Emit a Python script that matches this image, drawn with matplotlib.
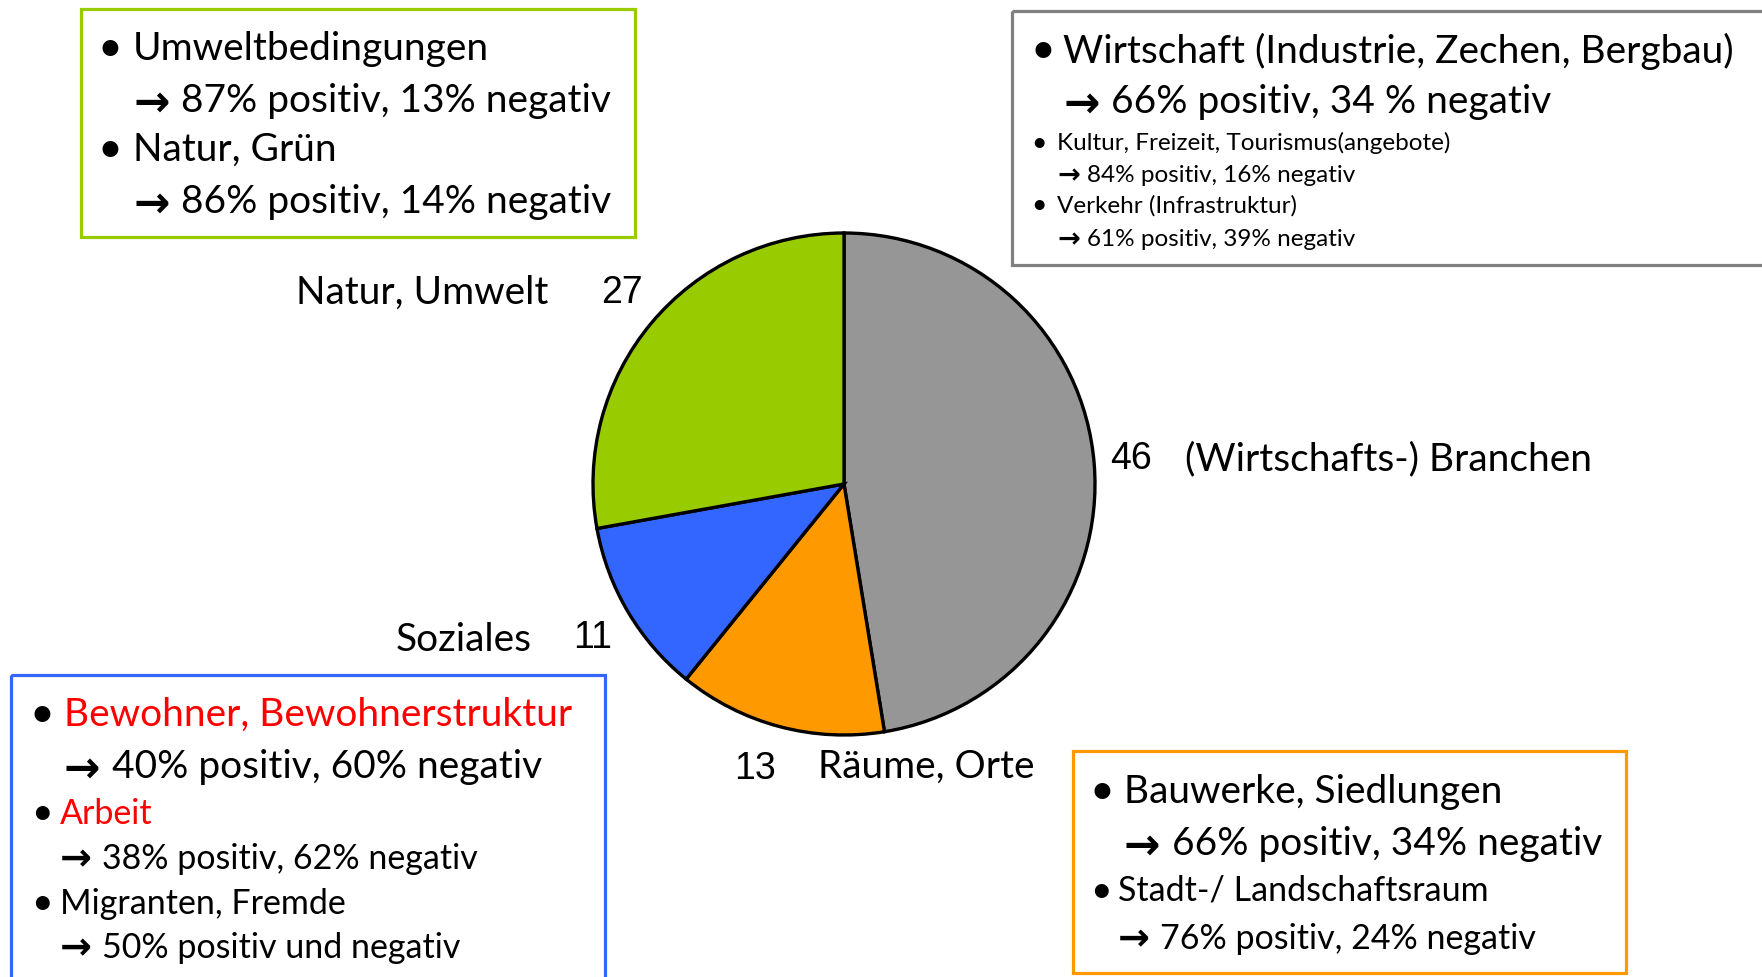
import matplotlib
matplotlib.use("Agg")
import matplotlib.pyplot as plt
from matplotlib.patches import Rectangle

# pie data
pie_labels = ["(Wirtschafts-) Branchen", "Räume, Orte", "Soziales", "Natur, Umwelt"]
pie_values = [46, 13, 11, 27]
pie_colors = ["#969696", "#FF9900", "#3366FF", "#99CC00"]

# box contents: (bullet?, text, colour, size class)
green_lines = [(True, "Umweltbedingungen", "black", "big"),
               (False, "→ 87% positiv, 13% negativ", "black", "big"),
               (True, "Natur, Grün", "black", "big"),
               (False, "→ 86% positiv, 14% negativ", "black", "big")]
grey_lines = [(True, "Wirtschaft (Industrie, Zechen, Bergbau)", "black", "big"),
              (False, "→ 66% positiv, 34 % negativ", "black", "big"),
              (True, "Kultur, Freizeit, Tourismus(angebote)", "black", "small"),
              (False, "→ 84% positiv, 16% negativ", "black", "small"),
              (True, "Verkehr (Infrastruktur)", "black", "small"),
              (False, "→ 61% positiv, 39% negativ", "black", "small")]
blue_lines = [(True, "Bewohner, Bewohnerstruktur", "#FF0000", "big"),
              (False, "→ 40% positiv, 60% negativ", "black", "big"),
              (True, "Arbeit", "#FF0000", "mid"),
              (False, "→ 38% positiv, 62% negativ", "black", "mid"),
              (True, "Migranten, Fremde", "black", "mid"),
              (False, "→ 50% positiv und negativ", "black", "mid")]
orange_lines = [(True, "Bauwerke, Siedlungen", "black", "big"),
                (False, "→ 66% positiv, 34% negativ", "black", "big"),
                (True, "Stadt-/ Landschaftsraum", "black", "mid"),
                (False, "→ 76% positiv, 24% negativ", "black", "mid")]

W, H = 1762, 977
FONT = ["Lato", "DejaVu Sans"]
sizes = {"big": 28, "mid": 24.5, "small": 17.5}
DY = 3

fig = plt.figure(figsize=(W / 100, H / 100), dpi=100)
ax = fig.add_axes((0, 0, 1, 1))

# pie (y axis is inverted, so counterclock in data = clockwise on screen)
ax.pie(pie_values, colors=pie_colors, startangle=-90, counterclock=True,
       center=(844, 484), radius=251,
       wedgeprops=dict(edgecolor="black", linewidth=2.4))
ax.set_xlim(0, W)
ax.set_ylim(H, 0)
ax.set_aspect("auto")
ax.axis("off")

# labels round the pie
label_pos = [(1185, 456, "left"), (818, 764, "left"), (532, 637, "right"), (548, 290, "right")]
num_pos = [(1110, 456), (734, 766), (573, 635), (601, 290)]
for lab, v, (lx, ly, ha), (nx, ny) in zip(pie_labels, pie_values, label_pos, num_pos):
    ax.text(lx, ly + DY, lab, ha=ha, va="center", fontsize=28, family=FONT)
    ax.text(nx, ny + DY, str(v), ha="left", va="center", fontsize=27, family="Liberation Sans")


def draw_box(x0, y0, x1, y1, edge, lines, ys, bxs, txs):
    ax.add_patch(Rectangle((x0, y0), x1 - x0, y1 - y0, fill=False,
                           edgecolor=edge, linewidth=2.3))
    for (bullet, txt, col, sz), y in zip(lines, ys):
        fs = sizes[sz]
        x = txs[sz]
        y = y + DY
        if bullet:
            ax.text(bxs[sz], y, "•", ha="center", va="center", fontsize=fs * 1.1, family=FONT)
        if txt.startswith("→ "):
            # heavier arrow glyph, like the Wingdings arrow in the original
            ax.text(x, y + 0.06 * fs, "→", ha="left", va="center", fontsize=fs * 1.12,
                    family="DejaVu Sans", fontweight="bold")
            ax.text(x + 1.24 * fs * 100 / 72, y, txt[2:], ha="left", va="center",
                    fontsize=fs, color=col, family=FONT)
        else:
            ax.text(x, y, txt, ha="left", va="center", fontsize=fs, color=col, family=FONT)


draw_box(81, 9, 635, 237, "#99CC00", green_lines, [46, 98, 147, 199],
         {"big": 110}, {"big": 133})
draw_box(1012, 11, 1800, 265, "#808080", grey_lines, [48, 99, 140, 172, 203, 236],
         {"big": 1043, "small": 1039}, {"big": 1063, "small": 1057})
draw_box(11, 675, 605, 1010, "#3366FF", blue_lines, [712, 764, 811, 856, 901, 945],
         {"big": 42, "mid": 42}, {"big": 64, "mid": 60})
draw_box(1073, 751, 1626, 973, "#FF9900", orange_lines, [789, 841, 888, 936],
         {"big": 1102, "mid": 1101}, {"big": 1124, "mid": 1118})

fig.savefig("out.png", dpi=100)
